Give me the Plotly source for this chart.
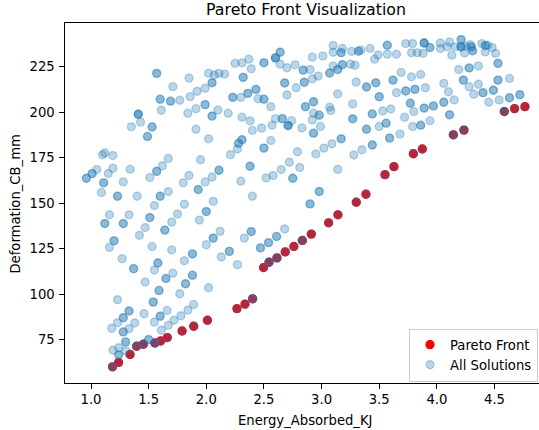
import numpy as np
import plotly.graph_objects as go

# ---- Pareto front points (also part of "All Solutions"; pareto_dup = copies in All Solutions)
pareto_x = [1.187, 1.239, 1.339, 1.396, 1.454, 1.554, 1.604, 1.662, 1.790, 1.891, 2.010,
            2.266, 2.336, 2.402, 2.497, 2.544, 2.613, 2.685, 2.760, 2.833, 2.911, 3.061,
            3.142, 3.301, 3.385, 3.550, 3.628, 3.796, 3.874, 4.143, 4.235, 4.585, 4.674, 4.764]
pareto_y = [60.0, 62.4, 66.8, 71.3, 72.4, 73.1, 74.2, 76.1, 79.7, 82.3, 85.6,
            92.0, 94.5, 97.4, 114.6, 117.5, 119.9, 123.2, 126.2, 129.5, 133.0, 139.2,
            143.6, 150.5, 154.9, 165.7, 170.1, 177.2, 179.8, 187.6, 190.2, 200.4, 202.0, 203.1]
pareto_dup = [2, 1, 1, 2, 2, 2, 1, 1, 1, 1, 1,
              1, 1, 2, 1, 2, 2, 1, 1, 2, 1, 1,
              1, 1, 1, 1, 1, 1, 1, 2, 2, 2, 1, 1]

# ---- Other solutions (other_n = number of coincident solutions at that spot)
other_x = [1.57, 1.85, 2.02, 2.07, 2.11, 2.05, 1.71, 1.99, 1.92, 1.86, 1.60, 1.69, 1.77, 1.99,
           1.91, 1.84, 2.10, 2.05, 1.61, 1.41, 1.43, 1.35, 1.53, 1.49, 1.91, 2.02, 1.12, 1.10,
           1.19, 1.05, 1.01, 0.96, 1.15, 1.19, 1.11, 1.28, 1.34, 1.09, 1.23, 1.40, 1.51, 1.57,
           1.62, 1.67, 1.60, 1.67, 1.80, 1.85, 1.95, 1.93, 1.99, 2.05, 2.11, 2.06,
           1.55, 1.81, 1.16, 1.33, 1.12, 1.28, 1.51, 1.47, 1.42, 1.64, 1.70, 1.75, 2.00, 1.94,
           2.12, 2.06, 2.00, 1.20, 1.16, 1.53, 1.70, 1.27, 1.37, 1.58, 1.55, 1.71, 1.65, 1.47,
           1.81, 1.88, 1.88, 1.82, 1.77, 2.02, 1.59, 1.54, 1.23, 1.33, 1.28, 1.23, 1.18, 1.28,
           1.33, 1.38, 1.46, 1.60, 1.55, 1.66, 1.61, 1.67, 1.72, 1.78, 1.84, 1.89, 1.30, 1.19,
           1.24, 1.30, 1.24, 1.50,
           2.16, 2.25, 2.31, 2.37, 2.39, 2.32, 2.50, 2.60, 2.64, 2.64, 2.70, 2.77, 2.84, 2.90,
           2.92, 3.01, 3.07, 2.97, 2.92, 2.85, 2.78, 2.70, 2.68, 3.10, 3.10, 3.17, 3.18, 3.26,
           3.32, 3.34, 3.42, 3.46, 3.10, 3.14, 3.18, 3.25, 3.29, 3.30, 3.39, 3.14, 2.93, 2.86,
           2.93, 2.98, 3.07, 3.08, 2.92, 2.99, 2.93, 2.83, 2.74, 2.66, 2.71, 2.60, 2.57, 2.56,
           2.50, 2.45, 2.43, 2.36, 2.30, 2.23, 2.19, 2.31, 2.38, 2.40, 2.48, 3.27, 3.27, 3.44,
           3.39, 3.17, 3.09, 3.02, 2.95, 3.28, 3.35, 3.44, 3.14, 2.56, 2.50, 2.31, 2.28, 2.27,
           2.21, 2.38, 2.79, 2.72, 2.81, 2.65, 2.58, 2.52, 2.75, 2.30, 2.40, 2.98,
           2.90, 2.68, 2.61, 2.54, 2.47, 2.39, 2.33, 2.20, 2.13, 2.27,
           3.49, 3.57, 3.57, 3.65, 3.73, 3.79, 3.78, 3.83, 3.88, 3.89, 3.94, 4.03, 4.03, 4.11,
           4.09, 4.13, 4.16, 4.21, 4.21, 4.25, 4.29, 4.31, 4.30, 4.24, 4.39, 4.42, 4.44, 4.48,
           4.42, 4.51, 4.53, 4.36, 4.28, 4.19, 3.69, 3.78, 3.86, 3.62, 3.47, 3.50, 3.65, 3.73,
           3.81, 3.90, 4.06, 4.10, 4.15, 4.06, 3.97, 3.89, 3.77, 3.80, 3.72, 3.94, 3.86, 3.79,
           4.11, 3.60, 3.53, 3.56, 3.50, 3.68, 3.59, 4.23, 4.28, 4.36, 4.32, 4.40, 4.49, 4.53,
           4.63, 4.45, 4.54, 4.63, 4.72]
other_y = [221.4, 218.8, 221.4, 220.5, 221.4, 216.2, 214.1, 213.2, 211.5, 208.6, 207.2, 206.1, 206.6, 204.2,
           202.0, 199.5, 201.2, 197.9, 201.1, 198.9, 194.6, 192.0, 191.9, 186.7, 190.7, 185.4, 177.6, 176.6,
           176.2, 168.5, 166.3, 163.7, 166.3, 169.2, 161.2, 161.7, 168.7, 155.9, 153.8, 153.8, 164.1, 167.5,
           170.6, 174.6, 153.8, 156.4, 161.2, 165.2, 173.9, 157.5, 161.7, 164.4, 168.1, 151.0,
           148.7, 149.4, 143.6, 143.6, 138.8, 138.8, 142.1, 136.6, 132.3, 135.2, 139.6, 144.0, 145.4, 140.7,
           134.5, 130.8, 127.2, 129.3, 125.7, 126.2, 124.3, 119.5, 114.0, 117.1, 113.3, 111.5, 108.6, 106.7,
           118.4, 122.1, 110.4, 105.7, 100.2, 103.5, 102.0, 95.6, 96.9, 90.7, 87.0, 84.3, 81.2, 79.2,
           81.0, 84.1, 89.2, 87.8, 84.6, 91.0, 80.1, 82.8, 85.6, 88.1, 91.2, 94.3, 73.7, 69.1,
           70.5, 68.8, 66.6, 75.0,
           221.0, 226.9, 227.2, 229.2, 223.9, 219.2, 227.2, 229.9, 233.0, 226.5, 224.5, 226.1, 223.2, 223.5,
           230.3, 231.0, 221.6, 219.9, 218.4, 216.5, 213.5, 209.5, 216.1, 236.7, 233.0, 232.8, 235.1, 233.5,
           233.6, 234.2, 235.1, 229.2, 225.4, 223.5, 226.2, 226.4, 225.8, 216.6, 213.9, 210.1, 205.8, 203.1,
           199.5, 198.4, 202.8, 201.0, 195.8, 192.2, 188.5, 191.4, 195.4, 196.5, 192.7, 196.5, 192.9, 203.1,
           207.2, 207.5, 212.6, 210.4, 208.2, 208.2, 199.5, 197.3, 195.3, 190.0, 191.3, 204.6, 196.4, 199.1,
           190.7, 185.4, 182.7, 180.3, 177.1, 176.5, 179.4, 182.0, 168.6, 184.5, 180.3, 184.9, 183.0, 179.8,
           176.7, 170.3, 178.3, 172.5, 169.6, 168.5, 165.2, 163.9, 163.7, 162.1, 153.8, 156.4,
           149.6, 135.8, 131.7, 128.3, 125.4, 134.4, 130.8, 123.5, 120.4, 116.2,
           231.5, 236.9, 232.0, 231.9, 237.8, 237.8, 232.7, 232.7, 232.4, 238.1, 235.6, 238.1, 235.1, 238.7,
           236.0, 231.4, 236.0, 240.0, 236.0, 236.3, 237.2, 233.8, 236.0, 232.6, 237.8, 236.7, 236.9, 235.6,
           233.2, 232.4, 226.9, 225.5, 224.4, 223.5, 221.9, 219.5, 220.8, 217.7, 216.2, 208.6, 210.8, 211.7,
           212.6, 213.5, 215.9, 211.3, 206.8, 205.5, 203.5, 202.3, 205.0, 200.4, 197.3, 195.4, 192.9, 192.2,
           198.6, 201.8, 200.7, 194.0, 192.2, 188.0, 185.8, 217.7, 214.1, 215.4, 209.9, 210.8, 212.1, 217.7,
           218.6, 205.5, 206.8, 208.0, 209.7]
other_n = [2, 1, 1, 1, 1, 2, 1, 1, 1, 1, 2, 2, 1, 2,
           1, 1, 1, 2, 1, 3, 1, 1, 2, 2, 1, 1, 1, 1,
           1, 1, 2, 2, 1, 1, 2, 1, 1, 1, 2, 1, 1, 2,
           1, 1, 2, 1, 1, 1, 1, 2, 1, 1, 2, 1,
           1, 1, 1, 1, 2, 2, 2, 1, 1, 2, 1, 1, 2, 1,
           1, 2, 1, 2, 1, 1, 1, 1, 2, 2, 1, 1, 2, 1,
           1, 2, 2, 2, 1, 1, 2, 2, 1, 2, 2, 1, 1, 2,
           1, 1, 1, 2, 1, 1, 1, 1, 1, 1, 1, 1, 2, 1,
           1, 1, 2, 2,
           1, 1, 1, 1, 1, 2, 2, 3, 2, 1, 1, 1, 2, 1,
           1, 1, 2, 1, 1, 2, 1, 1, 2, 1, 1, 2, 1, 1,
           2, 1, 1, 1, 1, 2, 2, 1, 1, 1, 2, 1, 2, 2,
           1, 2, 1, 1, 1, 1, 2, 1, 1, 2, 3, 1, 1, 1,
           2, 1, 2, 2, 1, 2, 1, 1, 1, 1, 1, 1, 2, 2,
           2, 2, 1, 1, 1, 1, 1, 2, 1, 1, 2, 2, 2, 1,
           1, 2, 1, 1, 1, 1, 1, 1, 2, 1, 1, 2,
           2, 1, 2, 2, 2, 2, 1, 2, 1, 1,
           1, 2, 1, 1, 1, 1, 1, 1, 1, 3, 2, 1, 1, 1,
           1, 1, 1, 2, 3, 1, 1, 2, 2, 1, 1, 2, 1, 1,
           1, 1, 2, 1, 2, 1, 1, 1, 1, 2, 2, 2, 1, 2,
           2, 1, 1, 1, 1, 2, 2, 2, 2, 1, 1, 1, 2, 1,
           2, 1, 1, 2, 1, 1, 2, 2, 1, 1, 1, 2, 2, 2,
           1, 1, 1, 2, 2]

x_ticks = [1.0, 1.5, 2.0, 2.5, 3.0, 3.5, 4.0, 4.5]
x_tick_labels = ["1.0", "1.5", "2.0", "2.5", "3.0", "3.5", "4.0", "4.5"]
y_ticks = [75, 100, 125, 150, 175, 200, 225]
y_tick_labels = ["75", "100", "125", "150", "175", "200", "225"]

all_x = np.concatenate([np.repeat(pareto_x, pareto_dup), np.repeat(other_x, other_n)])
all_y = np.concatenate([np.repeat(pareto_y, pareto_dup), np.repeat(other_y, other_n)])

FONT = "DejaVu Sans"
W, H = 539, 430
# plot area in page pixels
PL, PR, PT, PB = 65, 539, 23.3, 383.5
L, R, T, B = PL, W - PR, PT, H - PB
PW, PH = PR - PL, PB - PT


def px_x(wx):
    return (wx - PL) / PW


def px_y(wy):
    return (PB - wy) / PH


fig = go.Figure()
fig.add_trace(go.Scatter(
    x=pareto_x, y=pareto_y, mode="markers", name="Pareto Front",
    marker=dict(color="rgb(255,0,0)", size=8, line=dict(color="rgb(255,0,0)", width=1.3)),
))
fig.add_trace(go.Scatter(
    x=all_x, y=all_y, mode="markers", name="All Solutions",
    marker=dict(color="rgba(31,119,180,0.3)", size=8,
                line=dict(color="rgba(31,119,180,0.3)", width=1.3)),
))

axis_common = dict(
    showgrid=False, zeroline=False, showline=True, linecolor="black", linewidth=1,
    ticks="outside", ticklen=4.6, tickwidth=1, tickcolor="black",
    tickfont=dict(family=FONT, size=13.2, color="black"),
)
fig.update_layout(
    width=W, height=H,
    margin=dict(l=L, r=R, t=T, b=B, pad=0, autoexpand=False),
    paper_bgcolor="white", plot_bgcolor="white",
    font=dict(family=FONT, size=13.2, color="black"),
    showlegend=True,
    legend=dict(
        x=px_x(409), y=px_y(329),
        xanchor="left", yanchor="top",
        bgcolor="rgba(255,255,255,0.8)", bordercolor="#cccccc", borderwidth=1,
        font=dict(family=FONT, size=13.2, color="black"),
        tracegroupgap=0,
    ),
    xaxis=dict(range=[0.7745, 4.886], tickvals=x_ticks, ticktext=x_tick_labels,
               mirror=True, **axis_common),
    yaxis=dict(range=[51.1, 249.1], tickvals=y_ticks, ticktext=y_tick_labels,
               mirror=False, ticklabelstandoff=2, **axis_common),
    annotations=[
        dict(text="Pareto Front Visualization", xref="paper", yref="paper",
             x=px_x(306), y=1, xanchor="center", yanchor="bottom",
             yshift=2, showarrow=False, font=dict(family=FONT, size=15.8, color="black")),
        dict(text="Energy_Absorbed_KJ", xref="paper", yref="paper",
             x=px_x(305.5), y=0, xanchor="center", yanchor="middle",
             yshift=-37, showarrow=False, font=dict(family=FONT, size=13.2, color="black")),
        dict(text="Deformation_CB_mm", xref="paper", yref="paper", textangle=-90,
             x=0, y=px_y(204), xanchor="center", yanchor="middle",
             xshift=16 - PL, showarrow=False, font=dict(family=FONT, size=13.2, color="black")),
    ],
)

# the browser's default 8px body margin would shift the fixed-size figure; remove it
fig.write_html("out.html", config={"displayModeBar": False},
               post_script="document.body.style.margin='0px';")
